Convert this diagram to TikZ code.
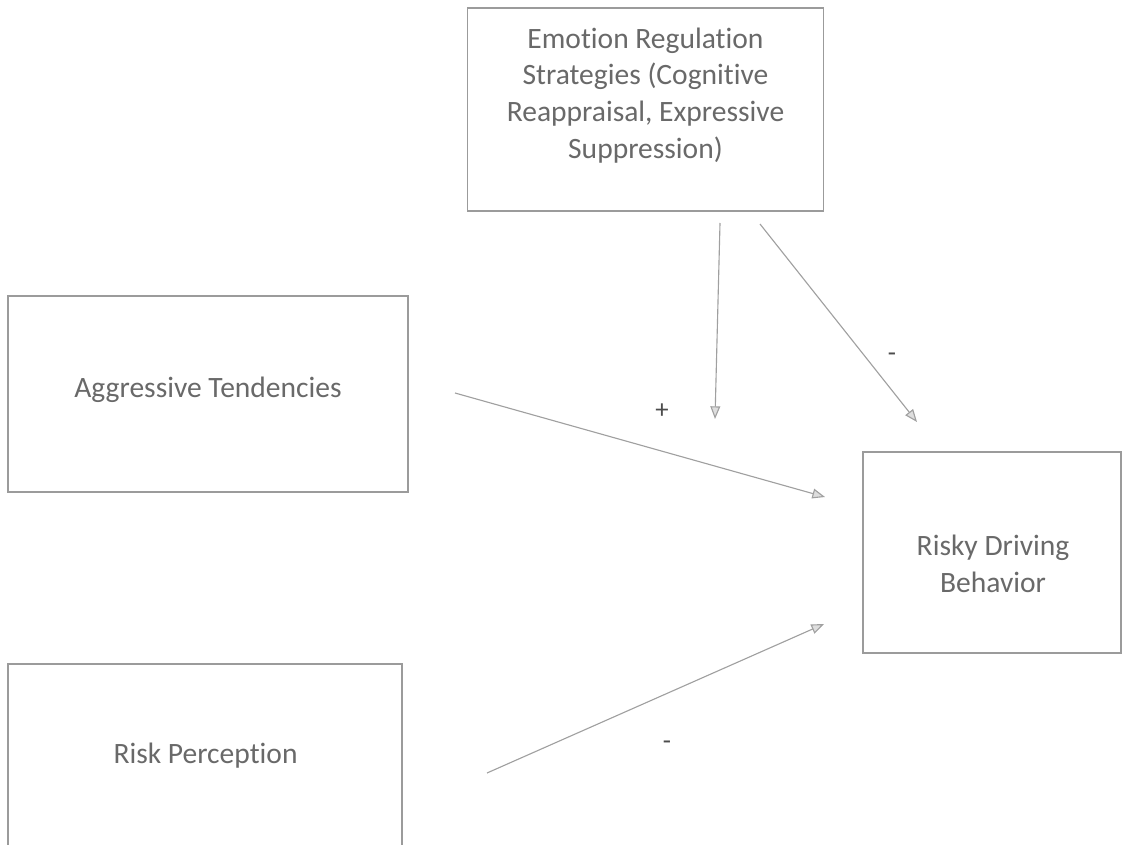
\documentclass[tikz,border=0pt]{standalone}
\usepackage{fontspec}
\setmainfont{Carlito}[Ligatures=NoCommon]
\usetikzlibrary{arrows.meta,positioning}
\definecolor{boxgray}{RGB}{155,155,155}
\definecolor{textgray}{RGB}{105,105,105}
\definecolor{arrowgray}{RGB}{160,160,160}

\begin{document}
\begin{tikzpicture}[
    x = 0.025cm, % one pixel of the layout
    y = -0.025cm, % y runs downwards
    > = {Triangle[open,length=9pt,width=7pt,fill=arrowgray!35]}, % arrow head style
    line width = 0.8pt % line style
    ]

    \tikzset{box/.style={
    draw = boxgray,
    fill = white,
    inner sep = 0pt
    }}
    \tikzset{txt/.style={
    text = textgray,
    align = center,
    font = \fontsize{21}{26.2}\selectfont
    }}
    \tikzset{sign/.style={
    text = black!70,
    font = \fontsize{19}{20}\selectfont
    }}

    \useasboundingbox (0,0) rectangle (1123,845);

    % boxes
    \node[box,minimum width=8.9cm,minimum height=5.075cm] (emo) at (645.5,109.5) {};
    \node[box,minimum width=10cm,minimum height=4.9cm] (aggr) at (208,394) {};
    \node[box,minimum width=9.85cm,minimum height=5.9cm] (perc) at (205,782) {};
    \node[box,minimum width=6.45cm,minimum height=5.025cm] (risky) at (992,552.5) {};

    % texts
    \node[txt] (emotext) at (645.5,95.5) {Emotion Regulation\\Strategies (Cognitive\\Reappraisal, Expressive\\Suppression)};
    \node[txt] (aggrtext) at (208,390) {Aggressive Tendencies};
    \node[txt] (perctext) at (205.5,756) {Risk Perception};
    \node[txt] (riskytext) at (993,564) {Risky Driving\\Behavior};

    % free arrow ends
    \coordinate (emoA) at (720,223);
    \coordinate (modA) at (715,419);
    \coordinate (emoB) at (760,224);
    \coordinate (riskyA) at (917,422);
    \coordinate (aggrA) at (455,393);
    \coordinate (riskyB) at (825,497);
    \coordinate (percA) at (487,773);
    \coordinate (riskyC) at (824,624);

    \draw[->,arrowgray] (emoA) -- (modA);
    \draw[->,arrowgray] (emoB) -- (riskyA);
    \draw[->,arrowgray] (aggrA) -- (riskyB);
    \draw[->,arrowgray] (percA) -- (riskyC);

    \node[sign] (plus) at (662,411) {+};
    \node[sign] (minusA) at (892,357) {-};
    \node[sign] (minusB) at (667,745) {-};
\end{tikzpicture}
\end{document}
